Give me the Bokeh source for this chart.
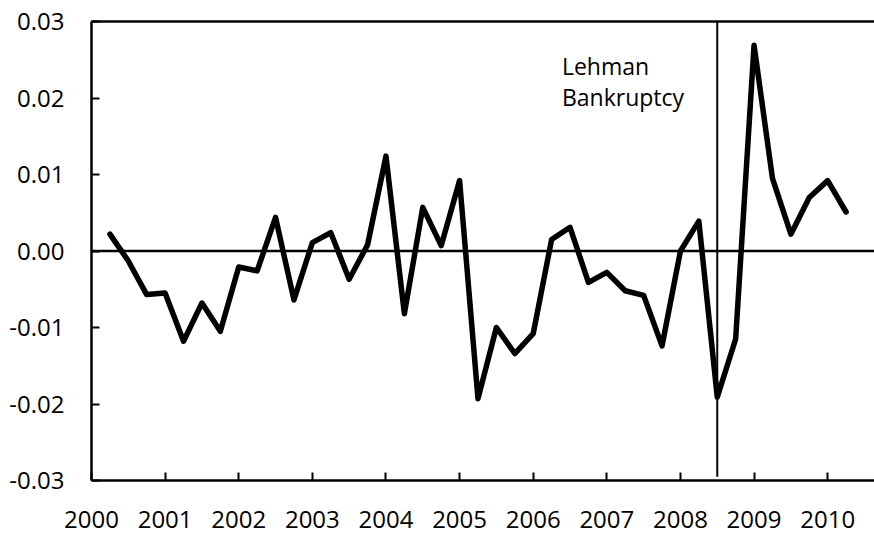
from bokeh.plotting import figure
from bokeh.models import Range1d, FixedTicker, LinearAxis, Span, Label, PrintfTickFormatter, ColumnDataSource
from bokeh.embed import file_html
from bokeh.resources import INLINE

# ---- data ----
quarters = [f"{y}Q{q}" for y in range(2000, 2011) for q in range(1, 5)][1:42]
values = [0.0022, -0.0013, -0.0057, -0.0055, -0.0118, -0.0068, -0.0105, -0.0021,
          -0.0026, 0.0044, -0.0064, 0.0011, 0.0024, -0.0037, 0.0008, 0.0124,
          -0.0082, 0.0057, 0.0007, 0.0092, -0.0193, -0.0100, -0.0134, -0.0108,
          0.0015, 0.0031, -0.0041, -0.0028, -0.0052, -0.0058, -0.0124, 0.0000,
          0.0039, -0.0191, -0.0115, 0.0269, 0.0095, 0.0022, 0.0070, 0.0092, 0.0051]
year_ticks = [2000, 2001, 2002, 2003, 2004, 2005, 2006, 2007, 2008, 2009, 2010]
year_labels = ["2000", "2001", "2002", "2003", "2004", "2005", "2006", "2007", "2008", "2009", "2010"]
y_ticks = [-0.03, -0.02, -0.01, 0.0, 0.01, 0.02, 0.03]
event_x = 2008.5
event_text = ["Lehman", "Bankruptcy"]

xs = [int(s[:4]) + (int(s[5]) - 1) / 4 for s in quarters]
src = ColumnDataSource(dict(x=xs, y=values))

FONT = "Open Sans"

p = figure(width=874, height=537, output_backend="svg", toolbar_location=None,
           x_range=Range1d(2000, 2010.636), y_range=Range1d(-0.03, 0.03),
           min_border_left=91, min_border_right=0, min_border_top=21, min_border_bottom=57)
p.outline_line_color = None
p.xgrid.visible = False
p.ygrid.visible = False
p.background_fill_color = "white"
p.border_fill_color = "white"

for ax in (p.xaxis[0], p.yaxis[0]):
    ax.axis_line_width = 2.5
    ax.axis_line_color = "black"
    ax.major_tick_in = 8
    ax.major_tick_out = 0
    ax.major_tick_line_width = 2
    ax.major_tick_line_color = "black"
    ax.minor_tick_line_color = None
    ax.major_label_text_font = FONT
    ax.major_label_text_font_size = "24px"
    ax.major_label_text_color = "black"

p.xaxis[0].ticker = FixedTicker(ticks=year_ticks)
p.xaxis[0].major_label_overrides = {t: l for t, l in zip(year_ticks, year_labels)}
p.xaxis[0].major_label_standoff = 30
p.xaxis[0].major_label_text_line_height = 0.8

p.yaxis[0].ticker = FixedTicker(ticks=y_ticks)
p.yaxis[0].formatter = PrintfTickFormatter(format="%.2f")
p.yaxis[0].major_label_overrides = {0.0: "0.00"}
p.yaxis[0].major_label_standoff = 27

top = LinearAxis(ticker=FixedTicker(ticks=[]), axis_line_width=2.5, axis_line_color="black",
                 major_tick_in=0, major_tick_out=0, minor_tick_line_color=None,
                 major_label_standoff=0)
p.add_layout(top, "above")

p.add_layout(Span(location=0, dimension="width", line_color="black", line_width=2.5))
p.segment(x0=[event_x], y0=[-0.0295], x1=[event_x], y1=[0.03], line_color="black", line_width=2)

p.line("x", "y", source=src, line_color="black", line_width=5.5, line_join="round", line_cap="round")

p.add_layout(Label(x=2006.39, y=0.0242, text=event_text[0], text_font=FONT, text_font_size="23px",
                   text_color="black", text_baseline="alphabetic"))
p.add_layout(Label(x=2006.39, y=0.0201, text=event_text[1], text_font=FONT, text_font_size="23px",
                   text_color="black", text_baseline="alphabetic"))

open("out.html", "w").write(file_html(p, INLINE))
